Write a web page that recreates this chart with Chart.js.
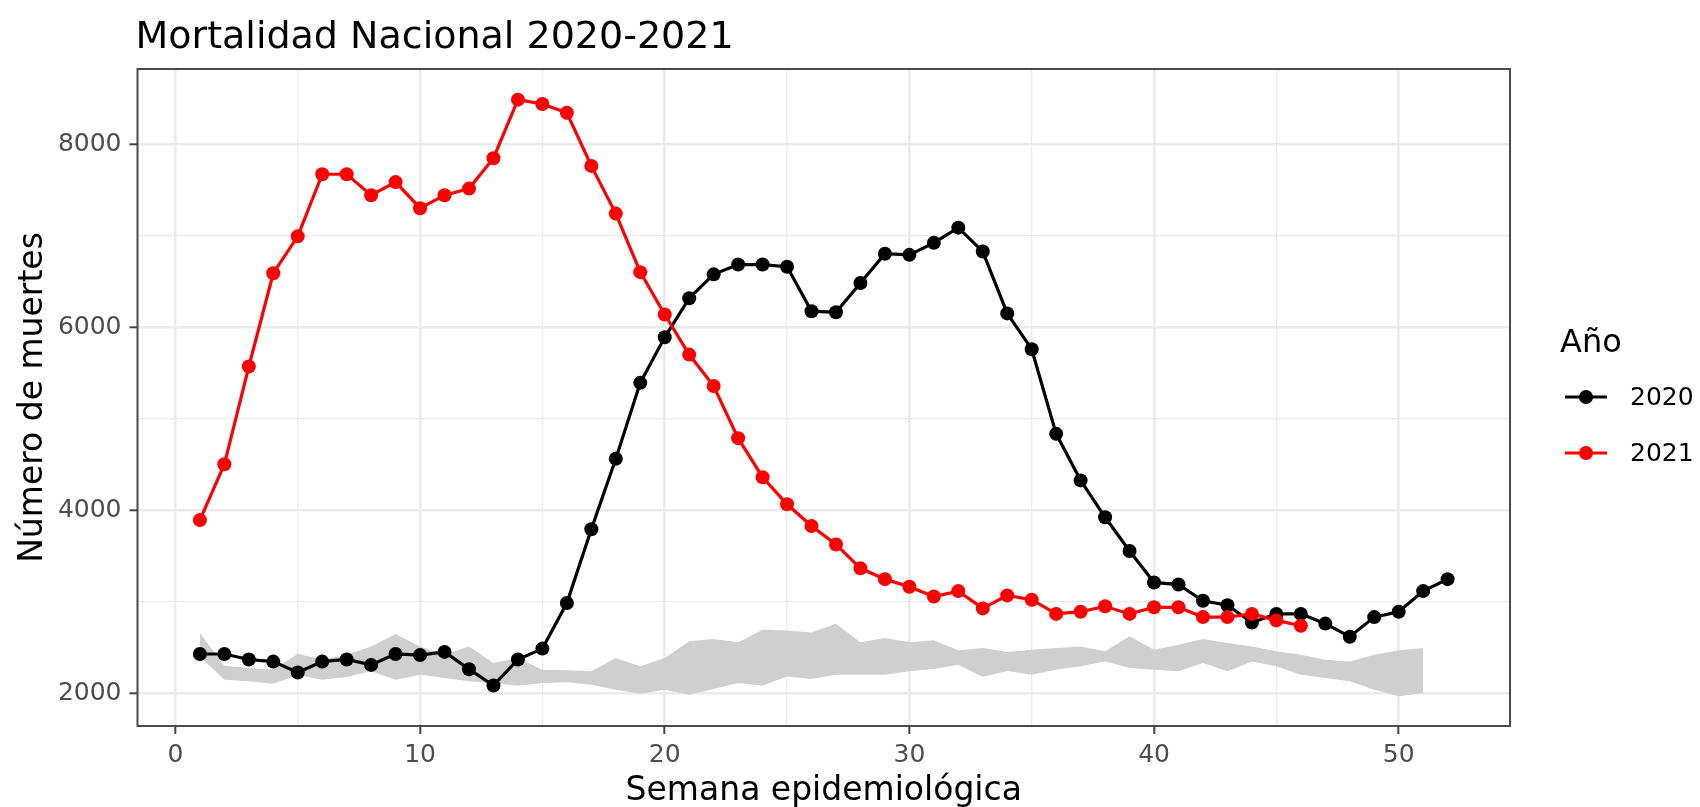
<!DOCTYPE html>
<html lang="es">
<head>
<meta charset="UTF-8" />
<title>Mortalidad Nacional 2020-2021</title>
<script src="https://cdn.jsdelivr.net/npm/chart.js"></script>
<style>
    body { margin: 0; background: #fff; }
    #wrap { width: 1700px; height: 807px; }
</style>
</head>
<body>
<div id="wrap"><canvas id="mortalidad" width="1700" height="807"></canvas></div>
<script>
// semanas epidemiológicas
const weeks = [1, 2, 3, 4, 5, 6, 7, 8, 9, 10, 11, 12, 13, 14, 15, 16, 17, 18, 19, 20,
    21, 22, 23, 24, 25, 26, 27, 28, 29, 30, 31, 32, 33, 34, 35, 36, 37, 38, 39, 40,
    41, 42, 43, 44, 45, 46, 47, 48, 49, 50, 51, 52];

const deaths2020 = [2427, 2427, 2367, 2344, 2225, 2344, 2367, 2308, 2427, 2415,
    2450, 2261, 2083, 2367, 2486, 2984, 3790, 4561, 5390, 5888,
    6315, 6576, 6683, 6683, 6659, 6173, 6161, 6481, 6801, 6789,
    6920, 7086, 6825, 6149, 5758, 4833, 4324, 3921, 3553, 3209,
    3186, 3008, 2960, 2771, 2865, 2865, 2759, 2616, 2830, 2889,
    3114, 3245];

const deaths2021 = [3890, 4500, 5568, 6588, 6991, 7670, 7670, 7441, 7584, 7299,
    7441, 7513, 7845, 8485, 8437, 8342, 7761, 7240, 6600, 6137,
    5699, 5355, 4786, 4359, 4063, 3826, 3624, 3363, 3245, 3162,
    3055, 3114, 2925, 3067, 3020, 2865, 2889, 2948, 2865, 2937,
    2937, 2830, 2830, 2865, 2794, 2735];

// banda de años previos (mínimo / máximo)
const bandLow = [2400, 2146, 2128, 2102, 2195, 2146, 2175, 2237, 2146, 2200,
    2164, 2128, 2110, 2080, 2109, 2117, 2091, 2036, 1993, 2036,
    1982, 2044, 2109, 2080, 2182, 2153, 2200, 2200, 2200, 2237,
    2262, 2310, 2175, 2242, 2200, 2255, 2292, 2346, 2273, 2255,
    2237, 2328, 2237, 2346, 2292, 2200, 2164, 2128, 2036, 1964,
    2000];

const bandHigh = [2656, 2299, 2273, 2255, 2430, 2364, 2419, 2510, 2645, 2510,
    2419, 2510, 2328, 2383, 2255, 2248, 2237, 2383, 2292, 2383,
    2565, 2591, 2554, 2693, 2685, 2663, 2758, 2554, 2601, 2554,
    2576, 2467, 2492, 2450, 2474, 2492, 2510, 2456, 2620, 2474,
    2529, 2591, 2547, 2510, 2456, 2419, 2364, 2346, 2419, 2467,
    2492];

const xMajor = [0, 10, 20, 30, 40, 50];
const xGrid = [0, 5, 10, 15, 20, 25, 30, 35, 40, 45, 50];
const yMajor = [2000, 4000, 6000, 8000];
const yGrid = [2000, 3000, 4000, 5000, 6000, 7000, 8000];

const seriesNames = ['2020', '2021'];
const seriesColors = ['#000000', '#FF0000'];

const FONT = '"DejaVu Sans", "Noto Sans", sans-serif';
const LINE_W = 3.2;
const DOT_R = 7;

function pts(xs, ys) {
    return ys.map((y, i) => ({ x: xs[i], y: y }));
}

function gridOpts(major) {
    return {
        color: '#EBEBEB',
        lineWidth: c => (c.tick && major.includes(c.tick.value)) ? 2.6 : 1.3,
        tickColor: c => (c.tick && major.includes(c.tick.value)) ? '#444444' : 'rgba(0,0,0,0)',
        tickLength: 8,
        tickWidth: 2
    };
}

// titulo, ejes, leyenda y borde del panel
const decor = {
    id: 'decor',
    afterDatasetsDraw(chart) {
        const { ctx, chartArea: a } = chart;
        ctx.save();
        ctx.strokeStyle = '#4a4a4a';
        ctx.lineWidth = 2;
        ctx.strokeRect(a.left, a.top, a.right - a.left, a.bottom - a.top);
        ctx.restore();
    },
    afterDraw(chart) {
        const { ctx, chartArea: a } = chart;
        ctx.save();
        ctx.fillStyle = '#000000';

        ctx.font = '38px ' + FONT;
        ctx.textAlign = 'left';
        ctx.textBaseline = 'alphabetic';
        ctx.fillText('Mortalidad Nacional 2020-2021', a.left - 2, 48);

        ctx.font = '33px ' + FONT;
        ctx.textAlign = 'center';
        ctx.fillText('Semana epidemiológica', (a.left + a.right) / 2, 800);

        ctx.save();
        ctx.translate(42, (a.top + a.bottom) / 2);
        ctx.rotate(-Math.PI / 2);
        ctx.fillText('Número de muertes', 0, 0);
        ctx.restore();

        // leyenda
        ctx.textAlign = 'left';
        ctx.font = '32px ' + FONT;
        ctx.fillText('Año', 1560, 352);
        ctx.font = '25px ' + FONT;
        seriesNames.forEach((name, i) => {
            const y = 397 + i * 56;
            ctx.strokeStyle = seriesColors[i];
            ctx.lineWidth = LINE_W;
            ctx.beginPath();
            ctx.moveTo(1565, y);
            ctx.lineTo(1607, y);
            ctx.stroke();
            ctx.fillStyle = seriesColors[i];
            ctx.beginPath();
            ctx.arc(1586, y, DOT_R, 0, Math.PI * 2);
            ctx.fill();
            ctx.fillStyle = '#000000';
            ctx.textBaseline = 'middle';
            ctx.fillText(name, 1630, y + 1);
        });
        ctx.restore();
    }
};

function seriesDataset(idx, values) {
    return {
        label: seriesNames[idx],
        data: pts(weeks, values),
        borderColor: seriesColors[idx],
        backgroundColor: seriesColors[idx],
        borderWidth: LINE_W,
        pointRadius: DOT_R,
        pointHoverRadius: DOT_R,
        pointBorderWidth: 0,
        tension: 0,
        fill: false
    };
}

new Chart(document.getElementById('mortalidad'), {
    type: 'line',
    data: {
        datasets: [
            seriesDataset(1, deaths2021),
            seriesDataset(0, deaths2020),
            {
                label: 'max',
                data: pts(weeks, bandHigh),
                borderColor: 'rgba(0,0,0,0)',
                backgroundColor: '#CFCFCF',
                pointRadius: 0,
                tension: 0,
                fill: '+1'
            },
            {
                label: 'min',
                data: pts(weeks, bandLow),
                borderColor: 'rgba(0,0,0,0)',
                pointRadius: 0,
                tension: 0,
                fill: false
            }
        ]
    },
    options: {
        responsive: false,
        animation: false,
        devicePixelRatio: 1,
        layout: { padding: { top: 69, right: 190, bottom: 0, left: 0 } },
        plugins: {
            legend: { display: false },
            tooltip: { enabled: false },
            title: { display: false }
        },
        scales: {
            x: {
                type: 'linear',
                min: -1.55,
                max: 54.55,
                afterBuildTicks: axis => { axis.ticks = xGrid.map(v => ({ value: v })); },
                afterFit: scale => { scale.height = 81; },
                border: { display: false },
                grid: gridOpts(xMajor),
                ticks: {
                    autoSkip: false,
                    maxRotation: 0,
                    padding: 6,
                    color: '#4D4D4D',
                    font: { family: FONT, size: 25 },
                    callback: v => xMajor.includes(v) ? String(v) : ''
                }
            },
            y: {
                type: 'linear',
                min: 1640,
                max: 8820,
                afterBuildTicks: axis => { axis.ticks = yGrid.map(v => ({ value: v })); },
                afterFit: scale => { scale.width = 137.5; },
                border: { display: false },
                grid: gridOpts(yMajor),
                ticks: {
                    autoSkip: false,
                    padding: 8,
                    color: '#4D4D4D',
                    font: { family: FONT, size: 25 },
                    callback: v => yMajor.includes(v) ? String(v) : ''
                }
            }
        }
    },
    plugins: [decor]
});
</script>
</body>
</html>
